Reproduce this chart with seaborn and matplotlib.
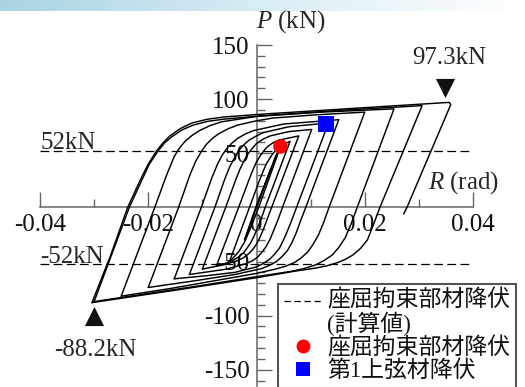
import numpy as np
import pandas as pd
import seaborn as sns
from matplotlib import pyplot as plt
from matplotlib.lines import Line2D
from matplotlib.legend_handler import HandlerLine2D
from matplotlib.ticker import MultipleLocator, FixedLocator, FixedFormatter
from matplotlib.colors import LinearSegmentedColormap


# hysteresis loops: drift R (rad) and load P (kN)
r_cycle1 = [0, 0.0014, 0.0027, 0.0024, 0.0000, -0.0022]
p_cycle1 = [0, 19, 36, 32, 2, -30]
r_cycle2 = [-0.0022, 0.0000, 0.0026, 0.0035, 0.0045, 0.0004, -0.0010, -0.0022, -0.0033, -0.0042, -0.0050]
p_cycle2 = [-30, 0, 35, 47, 57, 0, -18, -32, -41, -46, -50]
r_cycle3 = [-0.0050, -0.0013, 0.0004, 0.0012, 0.0018, 0.0024, 0.0030, 0.0036, 0.0048, 0.0062,
            0.0016, 0.0009, 0.0002, -0.0005, -0.0011, -0.0018, -0.0024, -0.0032, -0.0040, -0.0056, -0.0074]
p_cycle3 = [-50, 0, 23, 33, 40, 45, 49.5, 53, 58, 61,
            0, -10, -19, -27, -33, -38, -42, -45.5, -48, -51.5, -54]
r_cycle4 = [-0.0074, -0.0033, -0.0015, -0.0008, -0.0001, 0.0006, 0.0013, 0.0020, 0.0030, 0.0040, 0.0078,
            0.0028, 0.0020, 0.0013, 0.0006, 0.0000, -0.0007, -0.0015, -0.0024, -0.0034, -0.0060, -0.0100]
p_cycle4 = [-54, 0, 24, 33, 41, 47, 52, 56, 59.5, 62, 66,
            0, -10.5, -20, -28, -34, -39, -43, -46.5, -49, -53, -57]
r_cycle5 = [-0.0100, -0.0057, -0.0038, -0.0030, -0.0022, -0.0015, -0.0007, 0.0000, 0.0012, 0.0025, 0.0060, 0.0102,
            0.0048, 0.0040, 0.0032, 0.0025, 0.0018, 0.0010, 0.0002, -0.0008, -0.0020, -0.0055, -0.0124]
p_cycle5 = [-57, 0, 26, 36, 44, 50, 55, 59, 63, 66, 70, 72,
            0, -11, -21, -29.5, -36, -41.5, -46, -49.5, -52, -57, -62]
r_cycle6 = [-0.0124, -0.0077, -0.0058, -0.0049, -0.0040, -0.0032, -0.0023, -0.0014, 0.0000, 0.0012, 0.0060, 0.0133,
            0.0074, 0.0065, 0.0057, 0.0049, 0.0042, 0.0033, 0.0024, 0.0012, 0.0000, -0.0040, -0.0090, -0.0152]
p_cycle6 = [-62, 0, 27, 38, 46.5, 53, 58, 62, 66, 69, 74.5, 78,
            0, -12, -22, -31, -38, -43.5, -48, -52, -55, -60, -63, -66]
r_cycle7 = [-0.0152, -0.0102, -0.0082, -0.0072, -0.0063, -0.0054, -0.0044, -0.0034, -0.0020, -0.0005, 0.0050, 0.0152,
            0.0091, 0.0081, 0.0073, 0.0065, 0.0057, 0.0047, 0.0037, 0.0024, 0.0010, -0.0040, -0.0110, -0.0200]
p_cycle7 = [-66, 0, 28, 40, 48.5, 55, 60, 64, 68, 71, 77, 81,
            0, -13, -24, -33, -40, -45.5, -50, -53.5, -56.5, -62, -67.5, -74]
r_cycle8 = [-0.0200, -0.0144, -0.0123, -0.0112, -0.0102, -0.0093, -0.0082, -0.0070, -0.0053, -0.0035, 0.0000,
            0.0030, 0.0110, 0.0200,
            0.0134, 0.0124, 0.0114, 0.0104, 0.0095, 0.0083, 0.0070, 0.0053, 0.0035, 0.0000, -0.0080, -0.0160, -0.0250]
p_cycle8 = [-74, 0, 30, 43, 51.5, 58, 63.5, 68, 72.5, 76, 80, 82.5, 85.5, 88,
            0, -14, -26, -34.5, -41, -46.5, -51, -54.5, -57, -61, -68, -75, -82]
r_cycle9 = [-0.0250, -0.0188, -0.0166, -0.0152, -0.0142, -0.0132, -0.0119, -0.0105, -0.0086, -0.0065, 0.0000,
            0.0120, 0.0254,
            0.0186, 0.0175, 0.0164, 0.0152, 0.0140, 0.0125, 0.0110, 0.0088, 0.0065, 0.0000, -0.0100, -0.0200, -0.0300]
p_cycle9 = [-82, 0, 30, 47, 55, 61, 66.5, 71, 75.5, 79, 84, 88, 91,
            0, -15, -28, -37, -44, -49, -53, -56.5, -59, -64, -72, -79.5, -87]
r_cycle10 = [-0.0300, -0.0235, -0.0212, -0.0198, -0.0182, -0.0170, -0.0157, -0.0138, -0.0117, -0.0090, -0.0060,
             0.0006, 0.0150, 0.0306,
             0.0228, 0.0216, 0.0205, 0.0192, 0.0178, 0.0164, 0.0150, 0.0130, 0.0110, 0.0070, 0.0000, -0.0150, -0.0304]
p_cycle10 = [-87, 0, 25, 40, 52, 59.5, 65, 71.5, 76, 79.5, 81.5, 84.5, 89.5, 94,
             0, -16, -30, -38, -44, -48, -51, -54, -56, -59, -65, -76.5, -88]
r_cycle11 = [-0.0304, -0.0270, -0.0238, -0.0215, -0.0200, -0.0185, -0.0172, -0.0160, -0.0140, -0.0119, -0.0090,
             -0.0060, 0.0006, 0.0180, 0.0340, 0.0356, 0.0359, 0.0278, 0.0272]
p_cycle11 = [-88, -45, 0, 25, 40, 52, 60, 66, 73, 78, 81.5, 83.5, 86, 91.5, 96.5, 97, 95, 0, -6]

yield_calc = 52
brb_yield = (0.0043, 56.5)
chord_yield = (0.0128, 77)
max_pos = (0.0348, 110)
max_neg = (-0.0300, -100)
max_pos_label = "97.3kN"
max_neg_label = "-88.2kN"

x_ticks = [-0.04, -0.02, 0, 0.02, 0.04]
x_labels = ["-0.04", "-0.02", "0", "0.02", "0.04"]
y_ticks = [-150, -100, -50, 0, 50, 100, 150]
y_labels = ["-150", "-100", "-50", "", "50", "100", "150"]
legend_labels = ["座屈拘束部材降伏\n(計算値)", "座屈拘束部材降伏", "第1上弦材降伏"]


class TopLineHandler(HandlerLine2D):
    # put the dashed sample beside the first line of a two-line label
    def create_artists(self, legend, orig_handle, xdescent, ydescent, width, height, fontsize, trans):
        artists = super().create_artists(legend, orig_handle, xdescent, ydescent,
                                         width, height, fontsize, trans)
        for a in artists:
            a.set_ydata(np.asarray(a.get_ydata()) + 0.5 * fontsize)
        return artists


def main():
    sns.set_theme(style="white")
    plt.rcParams["font.family"] = ["Liberation Serif", "Noto Sans CJK JP"]
    plt.rcParams["axes.unicode_minus"] = False
    plt.rcParams["mathtext.fontset"] = "custom"
    plt.rcParams["mathtext.it"] = "Liberation Serif:italic"
    plt.rcParams["mathtext.rm"] = "Liberation Serif"

    cycles = [
        (r_cycle1, p_cycle1), (r_cycle2, p_cycle2), (r_cycle3, p_cycle3), (r_cycle4, p_cycle4),
        (r_cycle5, p_cycle5), (r_cycle6, p_cycle6), (r_cycle7, p_cycle7), (r_cycle8, p_cycle8),
        (r_cycle9, p_cycle9), (r_cycle10, p_cycle10), (r_cycle11, p_cycle11),
    ]
    records = []
    for i, (rs, ps) in enumerate(cycles):
        for j, (r, p) in enumerate(zip(rs, ps)):
            records.append({"cycle": i, "order": j, "R": r, "P": p})
    df = pd.DataFrame.from_records(records)

    fig = plt.figure(figsize=(5.25, 3.87), dpi=100)

    # light blue banner strip at the very top
    band = fig.add_axes([0, 1 - 11 / 387, 1, 11 / 387])
    cmap = LinearSegmentedColormap.from_list("band", ["#a9d4e4", "#d9edf4", "#ffffff"])
    band.imshow(np.linspace(0, 1, 256)[None, :], aspect="auto", cmap=cmap)
    band.axis("off")

    ax = fig.add_axes([40 / 525, 1 / 387, 433 / 525, 341 / 387])
    ax.set_xlim(-0.04, 0.04)
    ax.set_ylim(-165, 150)

    sns.lineplot(data=df, x="R", y="P", units="cycle", estimator=None, sort=False,
                 color="black", lw=1.05, ax=ax, legend=False)

    for lvl in (yield_calc, -yield_calc):
        ax.plot([-0.04, 0.04], [lvl, lvl], color="black", lw=0.9, ls=(0, (7, 3.5)), zorder=1)

    ax.scatter(*brb_yield, s=110, marker="o", color="#ff0000", zorder=5, linewidths=0)
    ax.scatter(*chord_yield, s=120, marker="s", color="#0000ff", zorder=5, linewidths=0)
    ax.scatter(*max_pos, s=190, marker="v", color="#111111", zorder=5, linewidths=0)
    ax.scatter(*max_neg, s=190, marker="^", color="#111111", zorder=5, linewidths=0)

    fs = 18
    ax.text(0.0357, 138, max_pos_label, ha="center", va="center", fontsize=fs)
    ax.text(-0.0298, -132, max_neg_label, ha="center", va="center", fontsize=fs)
    ax.text(-0.04, 53.5, f"{yield_calc}kN", ha="left", va="baseline", fontsize=fs)
    ax.text(-0.04, -51, f"-{yield_calc}kN", ha="left", va="baseline", fontsize=fs)
    ax.text(0.0, 166, r"$P$ (kN)", ha="left", va="baseline", fontsize=fs, clip_on=False)
    ax.text(0.0316, 17, r"$R$ (rad)", ha="left", va="baseline", fontsize=fs)

    # axes crossing at the origin
    for side in ("top", "right"):
        ax.spines[side].set_visible(False)
    ax.spines["left"].set_position(("data", 0))
    ax.spines["bottom"].set_position(("data", 0))
    for side in ("left", "bottom"):
        ax.spines[side].set_color("#666666")
        ax.spines[side].set_linewidth(1.1)
        ax.spines[side].set_zorder(0.5)

    ax.xaxis.set_major_locator(FixedLocator(x_ticks))
    ax.xaxis.set_major_formatter(FixedFormatter(x_labels))
    ax.xaxis.set_minor_locator(MultipleLocator(0.01))
    ax.yaxis.set_major_locator(FixedLocator(y_ticks))
    ax.yaxis.set_major_formatter(FixedFormatter(y_labels))
    ax.yaxis.set_minor_locator(MultipleLocator(10))
    ax.tick_params(which="both", direction="in", color="#666666", width=1.0,
                   labelsize=fs, labelcolor="#111111", bottom=True, left=True)
    ax.tick_params(which="major", length=11)
    ax.tick_params(which="minor", length=5.5)
    ax.tick_params(axis="x", pad=5)
    ax.tick_params(axis="y", pad=5)
    ax.set_xlabel("")
    ax.set_ylabel("")

    dash_handle = Line2D([], [], color="black", lw=0.9, ls=(0, (5, 3)))
    handles = [
        dash_handle,
        Line2D([], [], ls="none", marker="o", markersize=10, color="#ff0000", markeredgewidth=0),
        Line2D([], [], ls="none", marker="s", markersize=9.5, color="#0000ff", markeredgewidth=0),
    ]
    leg = ax.legend(handles, legend_labels, loc="upper left",
                    bbox_to_anchor=(278 / 525, 1 - 284 / 387), bbox_transform=fig.transFigure,
                    frameon=True, fancybox=False, borderaxespad=0, borderpad=0.25,
                    handlelength=1.7, handletextpad=0.2, labelspacing=0.05, fontsize=16.5,
                    handler_map={dash_handle: TopLineHandler()})
    leg.get_frame().set_edgecolor("#555555")
    leg.get_frame().set_linewidth(1.5)
    leg.get_frame().set_facecolor("white")
    leg.get_frame().set_alpha(1)
    for t in leg.get_texts():
        t.set_linespacing(1.0)
        t.set_color("#111111")

    fig.savefig("out.png", dpi=100)


if __name__ == "__main__":
    main()
